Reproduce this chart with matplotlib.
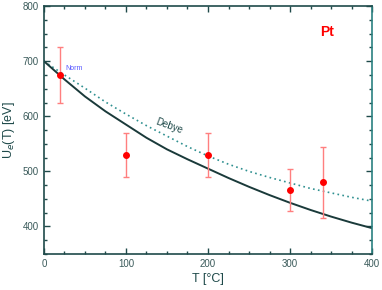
import numpy as np
import matplotlib.pyplot as plt
from matplotlib.ticker import MultipleLocator

plt.rcParams['font.family'] = ['Liberation Sans', 'DejaVu Sans']

# measured points
T_meas = [20, 100, 200, 300, 340]
U_meas = [675, 530, 530, 467, 480]
U_err = [50, 40, 40, 38, 65]

# fitted curve
T_fit = [0, 25, 50, 75, 100, 125, 150, 175, 200, 225, 250, 275, 300, 325, 350, 375, 400]
U_fit = [700, 667, 636, 609, 585, 561, 540, 522, 505, 488, 472, 457, 443, 430, 418, 407, 397]

# Debye curve
T_deb = [0, 25, 50, 75, 100, 125, 150, 175, 200, 225, 250, 275, 300, 325, 350, 375, 400]
U_deb = [700, 675, 651, 626, 604, 583, 564, 545, 528, 513, 500, 489, 479, 469, 461, 453, 446]

axcol = "#1f4a4a"

fig = plt.figure(figsize=(3.82, 2.90), dpi=100)
ax = fig.add_axes([0.115, 0.124, 0.859, 0.855])

ax.plot(T_deb, U_deb, ls=(0, (1, 2)), color="#2f9090", lw=1.2)
ax.plot(T_fit, U_fit, color="#1a3a3a", lw=1.4)
ax.errorbar(T_meas, U_meas, yerr=U_err, fmt="o", color="red", ms=4,
            ecolor="#ff7f7f", elinewidth=1.0, capsize=2.5, capthick=1.0)

ax.text(26, 686, "Norm", color="#5555ff", fontsize=5, va="center")
ax.text(152, 583, "Debye", color=axcol, fontsize=7, rotation=-20,
        ha="center", va="center")
ax.text(345, 753, "Pt", color="red", fontsize=10, fontweight="bold",
        ha="center", va="center")

ax.set_xlim(0, 400)
ax.set_ylim(350, 800)
ax.xaxis.set_major_locator(MultipleLocator(100))
ax.xaxis.set_minor_locator(MultipleLocator(25))
ax.yaxis.set_major_locator(MultipleLocator(100))
ax.yaxis.set_minor_locator(MultipleLocator(25))
ax.tick_params(which="both", direction="in", top=True, right=True,
               colors=axcol, labelsize=7, width=1.0, labelcolor="#3a5a5a")
ax.tick_params(which="major", length=4)
ax.tick_params(which="minor", length=2)
for s in ax.spines.values():
    s.set_color(axcol)
    s.set_linewidth(1.2)
ax.spines["right"].set_color("#2a8080")

ax.set_xlabel("T [°C]", fontsize=9, color=axcol, labelpad=3)
ax.set_ylabel("U$_e$(T) [eV]", fontsize=9, color=axcol, labelpad=4)

fig.savefig("out.png", dpi=100)
